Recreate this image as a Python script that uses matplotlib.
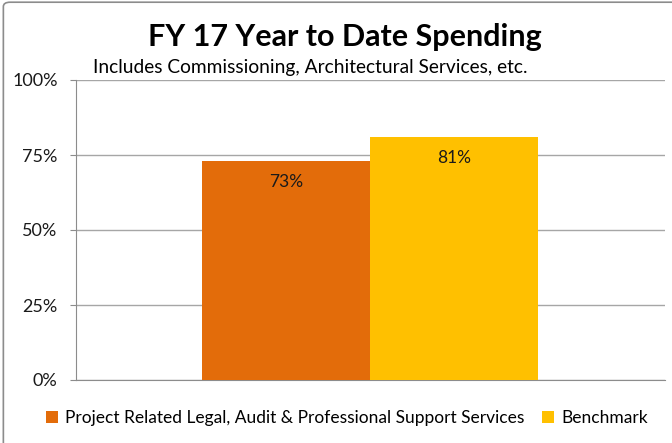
import matplotlib.pyplot as plt
from matplotlib.patches import FancyBboxPatch
from matplotlib.ticker import FuncFormatter

plt.rcParams["font.family"] = ["Lato", "DejaVu Sans"]

series_names = [
    "Project Related Legal, Audit & Professional Support Services",
    "Benchmark",
]
series_values = [73, 81]
series_colors = ["#E36C0A", "#FFC000"]
y_ticks = [0, 25, 50, 75, 100]

fig = plt.figure(figsize=(6.72, 4.43), dpi=100)

# chart frame, running off the right and bottom edges
frame = FancyBboxPatch(
    (0.005, -0.2), 1.2, 1.195,
    boxstyle="round,pad=0,rounding_size=0.01",
    transform=fig.transFigure, facecolor="none", edgecolor="#8c8c8c",
    linewidth=1.2, zorder=5,
)
fig.patches.append(frame)

ax = fig.add_axes([76 / 672, 63 / 443, 589 / 672, 300 / 443])
ax.set_facecolor("none")

width = 0.5
offsets = [-width, 0]
for name, val, col, off in zip(series_names, series_values, series_colors, offsets):
    ax.bar(off, val, width=width, align="edge", color=col, label=name, zorder=3)
    ax.text(off + width / 2, val - 7, f"{val}%", ha="center", va="center",
            fontsize=12.5, color="#1a1a1a", zorder=4)

ax.set_xlim(-0.875, 0.878)
ax.set_ylim(0, 100)
ax.set_yticks(y_ticks)
ax.yaxis.set_major_formatter(FuncFormatter(lambda v, p: f"{int(v)}%"))
ax.yaxis.grid(True, color="#a6a6a6", linewidth=1.0, zorder=0)
ax.set_xticks([])
ax.tick_params(axis="y", length=4.3, color="#8c8c8c", labelsize=13,
               labelcolor="#1a1a1a", pad=9)
for s in ["top", "right"]:
    ax.spines[s].set_visible(False)
ax.spines["left"].set_color("#8c8c8c")
ax.spines["bottom"].set_color("#8c8c8c")

fig.text(345 / 672, 1 - 37 / 443, "FY 17 Year to Date Spending", ha="center",
         va="center", fontsize=22, fontweight="bold", color="black")
fig.text(310 / 672, 1 - 68 / 443,
         "Includes Commissioning, Architectural Services, etc.",
         ha="center", va="center", fontsize=13.8, color="black")

fig.legend(loc="center", bbox_to_anchor=(347 / 672, 1 - 418 / 443), ncol=2,
           frameon=False, fontsize=12.5, handlelength=0.7, handleheight=0.7,
           handletextpad=0.4, columnspacing=1.0)

fig.savefig("out.png", dpi=100)
